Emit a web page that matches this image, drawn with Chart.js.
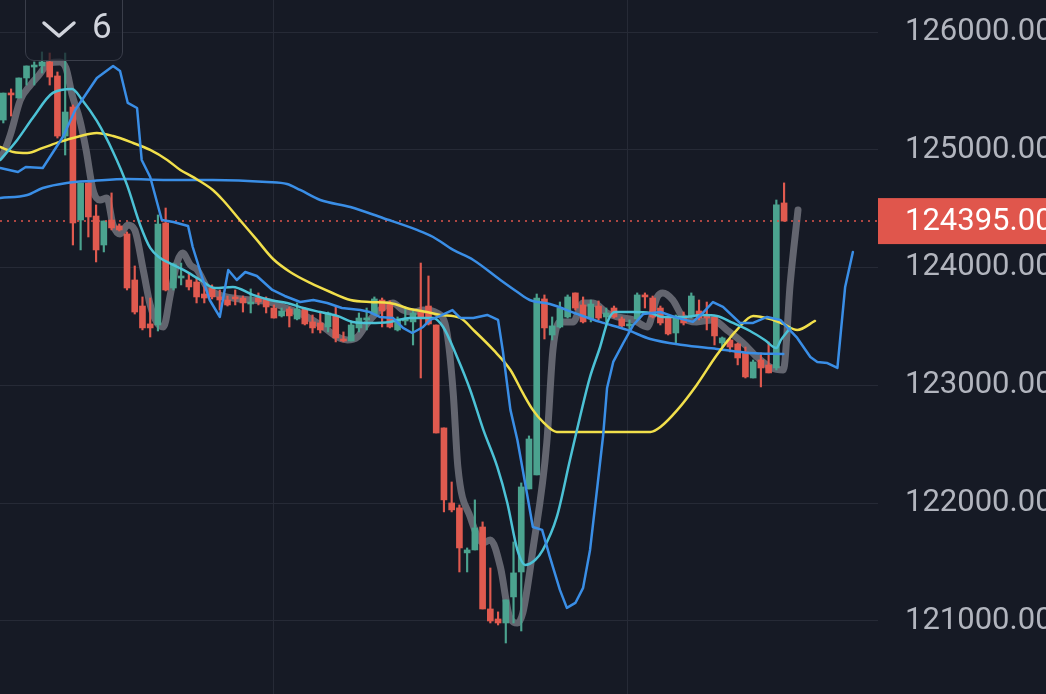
<!DOCTYPE html>
<html>
<head>
<meta charset="utf-8">
<script src="https://cdn.jsdelivr.net/npm/chart.js@4.4.1/dist/chart.umd.min.js"></script>
<style>
  html, body { margin: 0; padding: 0; background: #161a25; }
  #wrap { position: relative; width: 1046px; height: 694px; overflow: hidden; }
  #badge {
    position: absolute; left: 25px; top: -10px; width: 98px; height: 71px;
    box-sizing: border-box; border: 1.5px solid #3a3e4a; border-radius: 0 0 9px 9px;
    background: rgba(22, 26, 37, 0.72);
  }
  #badge svg { position: absolute; left: 0; top: 0; }
  #badge span {
    position: absolute; left: 66px; top: 19px; font: 35px Roboto, sans-serif;
    line-height: 34px; color: #d1d4dc;
  }
</style>
</head>
<body>
<div id="wrap">
  <canvas id="chart" width="1046" height="694"></canvas>
  <div id="badge">
    <svg width="98" height="71"><polyline points="18,32 33,45 48,32" fill="none" stroke="#d1d4dc" stroke-width="3.5" stroke-linecap="round" stroke-linejoin="round"/></svg>
    <span>6</span>
  </div>
</div>
<script>
// Velas (uma por barra)
const opens = [125253,125482,125440,125610,125703,125712,125746,125627,125117,125364,
  124404,124719,124438,124192,124404,124354,124286,123895,123674,123522,
  123513,124379,123827,123912,123895,123878,123776,123827,123751,123725,
  123751,123742,123691,123742,123734,123657,123590,123649,123564,123649,
  123539,123530,123496,123590,123394,123377,123488,123556,123606,123725,
  123700,123471,123547,123539,123623,123674,123513,122639,122002,121960,
  121578,121603,121798,121102,121017,120983,121204,121416,122121,122240,
  123734,123428,123496,123581,123785,123683,123564,123674,123581,123657,
  123564,123505,123564,123768,123742,123657,123572,123445,123581,123581,
  123632,123598,123581,123360,123386,123352,123284,123063,123216,123173,
  123148,124549];
const closes = [125482,125466,125610,125712,125720,125746,125618,125117,125321,124379,
  124719,124430,124150,124396,124337,124320,123827,123623,123488,123488,
  124370,123810,124031,123929,123836,123751,123742,123751,123725,123683,
  123734,123700,123708,123708,123666,123572,123632,123590,123649,123522,
  123488,123471,123615,123403,123377,123513,123572,123572,123734,123632,
  123496,123564,123564,123615,123581,123522,122596,122028,121943,121620,
  121603,121790,121102,121000,120983,121179,121408,122138,122545,123742,
  123488,123505,123657,123751,123657,123539,123691,123572,123615,123581,
  123505,123522,123768,123751,123581,123530,123437,123581,123530,123759,
  123572,123572,123420,123403,123326,123233,123072,123199,123148,123106,
  124532,124395];
const highs = [125482,125517,125610,125712,125746,125831,125822,125661,125822,125381,
  124719,124719,124532,124396,124634,124371,124303,124014,123751,123742,
  124447,124506,124039,124039,123955,123912,123844,123853,123810,123759,
  123810,123759,123819,123785,123751,123683,123657,123666,123700,123657,
  123598,123623,123623,123666,123454,123539,123615,123657,123751,123742,
  123717,123581,123666,123640,124039,123929,123513,122639,122180,121985,
  121620,122028,121841,121450,121077,121179,121671,122172,122571,123776,
  123768,123581,123708,123768,123785,123751,123725,123717,123657,123674,
  123581,123556,123785,123785,123759,123674,123590,123598,123623,123785,
  123725,123708,123590,123411,123394,123360,123326,123216,123275,123369,
  124574,124719];
const lows = [125228,125287,125440,125550,125550,125652,125550,125100,124956,124192,
  124150,124260,124048,124133,124320,124311,123810,123606,123471,123411,
  123462,123802,123810,123853,123810,123700,123700,123734,123640,123674,
  123683,123623,123615,123683,123615,123572,123581,123496,123556,123513,
  123445,123445,123454,123369,123369,123377,123454,123471,123598,123496,
  123488,123462,123513,123343,123063,123513,122596,121926,121926,121416,
  121416,121603,121102,120983,120966,120813,120983,120915,122121,122240,
  123394,123386,123488,123572,123640,123530,123539,123556,123539,123572,
  123488,123471,123556,123657,123572,123513,123428,123352,123513,123572,
  123556,123471,123343,123326,123284,123174,123063,123063,122987,123106,
  123131,124395];

const lastPrice = 124395;
const yTicks = [121000, 122000, 123000, 124000, 125000, 126000];
const xGrid = [35, 80.8];

// Médias (posição da barra, valor)
const grayIdx = [-0.4,0,0.9,2.2,3.5,4.4,6.0,7.3,8.1,8.9,9.9,10.7,11.6,12.5,13.4,14.2,15.1,16.1,17.0,18.1,
  19.0,19.9,20.7,21.6,22.5,23.2,24.2,25.1,26.4,28.0,29.7,31.9,34.5,36.2,38.8,41.4,43.2,44.5,45.8,47.1,
  48.7,50.4,51.7,53.0,54.3,56.1,57.4,58.2,58.8,60.4,62.1,63.0,64.3,65.5,66.5,67.2,68.5,70.3,71.1,72.0,
  73.7,75.0,76.3,78.1,79.4,81.5,83.3,84.6,85.3,86.6,87.9,89.7,91.8,93.6,95.7,97.5,99.2,100.9,101.8,102.8];
const grayVal = [124939,124973,125126,125423,125550,125618,125737,125746,125695,125466,125253,125001,124659,124574,124591,124362,124286,124362,124320,123980,
  123683,123530,123496,123768,124048,124124,124022,123980,123827,123768,123742,123725,123708,123666,123598,123496,123411,123386,123411,123530,
  123640,123700,123640,123623,123640,123615,123445,122936,122308,121883,121663,121688,121459,121034,120983,121068,121603,122511,123301,123539,
  123539,123700,123700,123615,123581,123556,123496,123751,123785,123725,123581,123539,123556,123471,123360,123241,123156,123131,123870,124489];

const cyanIdx = [-0.4,1.8,3.8,6.4,8.9,10.2,12.1,14.2,16.0,17.7,19.0,20.3,21.2,23.3,25.5,27.4,29.7,32.3,34.5,36.7,
  38.8,41.0,43.2,45.2,47.4,50.0,52.6,55.6,56.9,58.7,60.4,62.1,63.9,65.2,66.5,67.5,68.8,69.8,71.6,73.3,
  74.6,75.9,77.2,78.2,79.1,81.5,83.7,85.3,87.9,90.5,92.3,94.4,96.6,98.5,100.0,100.6,101.8];
const cyanVal = [124914,125084,125270,125483,125517,125423,125245,124982,124702,124362,124167,124082,124048,123980,123895,123827,123836,123768,123725,123700,
  123657,123623,123590,123539,123530,123539,123573,123573,123496,123241,122961,122622,122308,122002,121603,121476,121518,121603,121883,122367,
  122732,123072,123326,123547,123623,123623,123615,123581,123581,123598,123590,123530,123462,123386,123318,123386,123488];

const blueIdx = [-0.4,1.9,2.9,5.1,7.7,9.3,12.1,14.2,15.1,16.1,17.3,17.9,19.0,20.5,22.0,23.9,24.5,25.7,26.7,28.0,
  29.1,30.2,31.3,32.8,34.8,36.4,38.4,40.1,41.9,43.8,46.2,47.4,48.7,50.4,51.7,52.9,54.3,55.2,56.5,58.1,
  59.1,60.8,62.6,64.0,64.6,65.6,66.5,67.5,68.5,69.7,70.7,72.0,72.9,74.0,75.0,75.9,76.9,77.6,78.1,78.9,
  80.2,81.5,82.8,85.0,87.2,89.2,90.5,91.8,93.1,95.3,97.0,98.8,100.5,102.7,104.4,105.3,106.6,107.9,108.9,109.9];
const blueVal = [124846,124812,124854,124846,125109,125338,125610,125712,125669,125398,125355,124914,124769,124404,124387,124353,124175,123921,123725,123581,
  123980,123895,123963,123929,123810,123759,123708,123725,123700,123657,123640,123623,123581,123573,123488,123445,123496,123556,123590,123640,
  123573,123573,123598,123556,123301,122792,122537,122172,121798,121773,121544,121264,121111,121153,121281,121603,122172,122579,122978,123199,
  123360,123513,123607,123623,123573,123539,123615,123708,123666,123530,123530,123581,123556,123403,123241,123199,123190,123148,123836,124133];

const yellowIdx = [-0.4,1.3,3.1,5.1,7.3,9.5,12.1,14.2,16.8,19.0,21.2,22.9,24.5,27.1,28.4,30.6,32.8,34.9,37.1,39.7,
  42.3,44.9,47.4,50.0,52.6,54.8,56.5,59.1,60.8,63.4,65.6,67.2,68.5,69.8,71.6,77.2,83.7,85.0,87.2,89.7,
  92.3,94.9,97.0,99.2,100.9,102.7,105.0];
const yellowVal = [125024,124982,124973,125016,125067,125109,125143,125117,125058,124999,124914,124829,124770,124659,124574,124404,124235,124073,123963,123870,
  123793,123725,123708,123700,123649,123623,123598,123573,123471,123301,123131,122936,122792,122690,122605,122605,122605,122647,122792,123004,
  123258,123471,123590,123564,123522,123471,123547];

const slowIdx = [-0.4,3.1,5.1,8.2,11.6,16.0,21.2,27.1,34.1,36.7,38.4,41.0,44.9,49.1,53.5,55.6,58.2,60.8,64.3,66.5,
  68.1,70.7,74.2,77.2,80.7,83.7,87.9,92.3,96.6,100.9];
const slowVal = [124591,124617,124676,124719,124736,124752,124744,124744,124727,124710,124659,124574,124515,124421,124320,124260,124150,124065,123895,123793,
  123725,123691,123607,123539,123471,123394,123343,123310,123275,123267];

const X_MIN = -0.43, X_MAX = 113.15;
const UP = '#4ba38f', DOWN = '#e05a4f';
const LABEL_FONT = 31;

const toPoints = (xs, ys) => xs.map((x, k) => ({ x: x, y: ys[k] }));
const candleColors = opens.map((o, i) => closes[i] >= o ? UP : DOWN);

function lineSet(points, color, width, order, smooth) {
  return {
    type: 'line', data: points, borderColor: color, borderWidth: width,
    pointRadius: 0, fill: false, order: order,
    cubicInterpolationMode: smooth ? 'monotone' : 'default', tension: 0,
    borderCapStyle: 'round', borderJoinStyle: 'round'
  };
}

// Etiqueta do último preço no eixo
const priceLabel = {
  id: 'priceLabel',
  afterDraw(chart) {
    const { ctx, chartArea, scales } = chart;
    const y = scales.y.getPixelForValue(lastPrice);
    ctx.save();
    ctx.fillStyle = '#e0564c';
    ctx.fillRect(chartArea.right, y - 23, chart.width - chartArea.right, 46);
    ctx.fillStyle = '#ffffff';
    ctx.font = LABEL_FONT + 'px Roboto';
    ctx.textBaseline = 'middle';
    ctx.textAlign = 'left';
    ctx.fillText(lastPrice.toFixed(2), chartArea.right + 27, y + 1);
    ctx.restore();
  }
};

const ctx = document.getElementById('chart').getContext('2d');
new Chart(ctx, {
  type: 'line',
  data: {
    datasets: [
      lineSet(toPoints(grayIdx, grayVal), 'rgba(108,110,120,0.9)', 7, 10, true),
      {
        type: 'bar', grouped: false, order: 8,
        data: lows.map((l, i) => ({ x: i, y: [l, highs[i]] })),
        backgroundColor: candleColors, barThickness: 1.5
      },
      {
        type: 'bar', grouped: false, order: 7,
        data: opens.map((o, i) => ({ x: i, y: [o, closes[i]] })),
        backgroundColor: candleColors, barThickness: 6, minBarLength: 2
      },
      {
        type: 'line', order: 6,
        data: [{ x: X_MIN, y: lastPrice }, { x: X_MAX, y: lastPrice }],
        borderColor: '#e0564c', borderWidth: 1.5, borderDash: [2, 5], pointRadius: 0
      },
      lineSet(toPoints(slowIdx, slowVal), '#3a8ee6', 2.5, 5, true),
      lineSet(toPoints(yellowIdx, yellowVal), '#f1df4b', 2.5, 4, true),
      lineSet(toPoints(cyanIdx, cyanVal), '#4cc2d6', 2.5, 3, true),
      lineSet(toPoints(blueIdx, blueVal), '#3a8ee6', 2.5, 2, false)
    ]
  },
  options: {
    responsive: false,
    animation: false,
    events: [],
    layout: { padding: 0 },
    plugins: { legend: { display: false }, tooltip: { enabled: false } },
    scales: {
      x: {
        type: 'linear', min: X_MIN, max: X_MAX, offset: false,
        afterBuildTicks: s => { s.ticks = xGrid.map(v => ({ value: v })); },
        afterFit: s => { s.height = 0; },
        grid: { color: '#262a36', drawTicks: false, offset: false },
        border: { display: false },
        ticks: { display: false }
      },
      y: {
        position: 'right', min: 120380, max: 126272,
        afterBuildTicks: s => { s.ticks = yTicks.map(v => ({ value: v })); },
        afterFit: s => { s.width = 168; s.paddingTop = 0; s.paddingBottom = 0; },
        grid: { color: '#262a36', drawTicks: false },
        border: { display: false },
        ticks: {
          color: '#b2b5be', font: { family: 'Roboto', size: LABEL_FONT }, padding: 27,
          callback: v => Number(v).toFixed(2)
        }
      }
    }
  },
  plugins: [priceLabel]
});
</script>
</body>
</html>
